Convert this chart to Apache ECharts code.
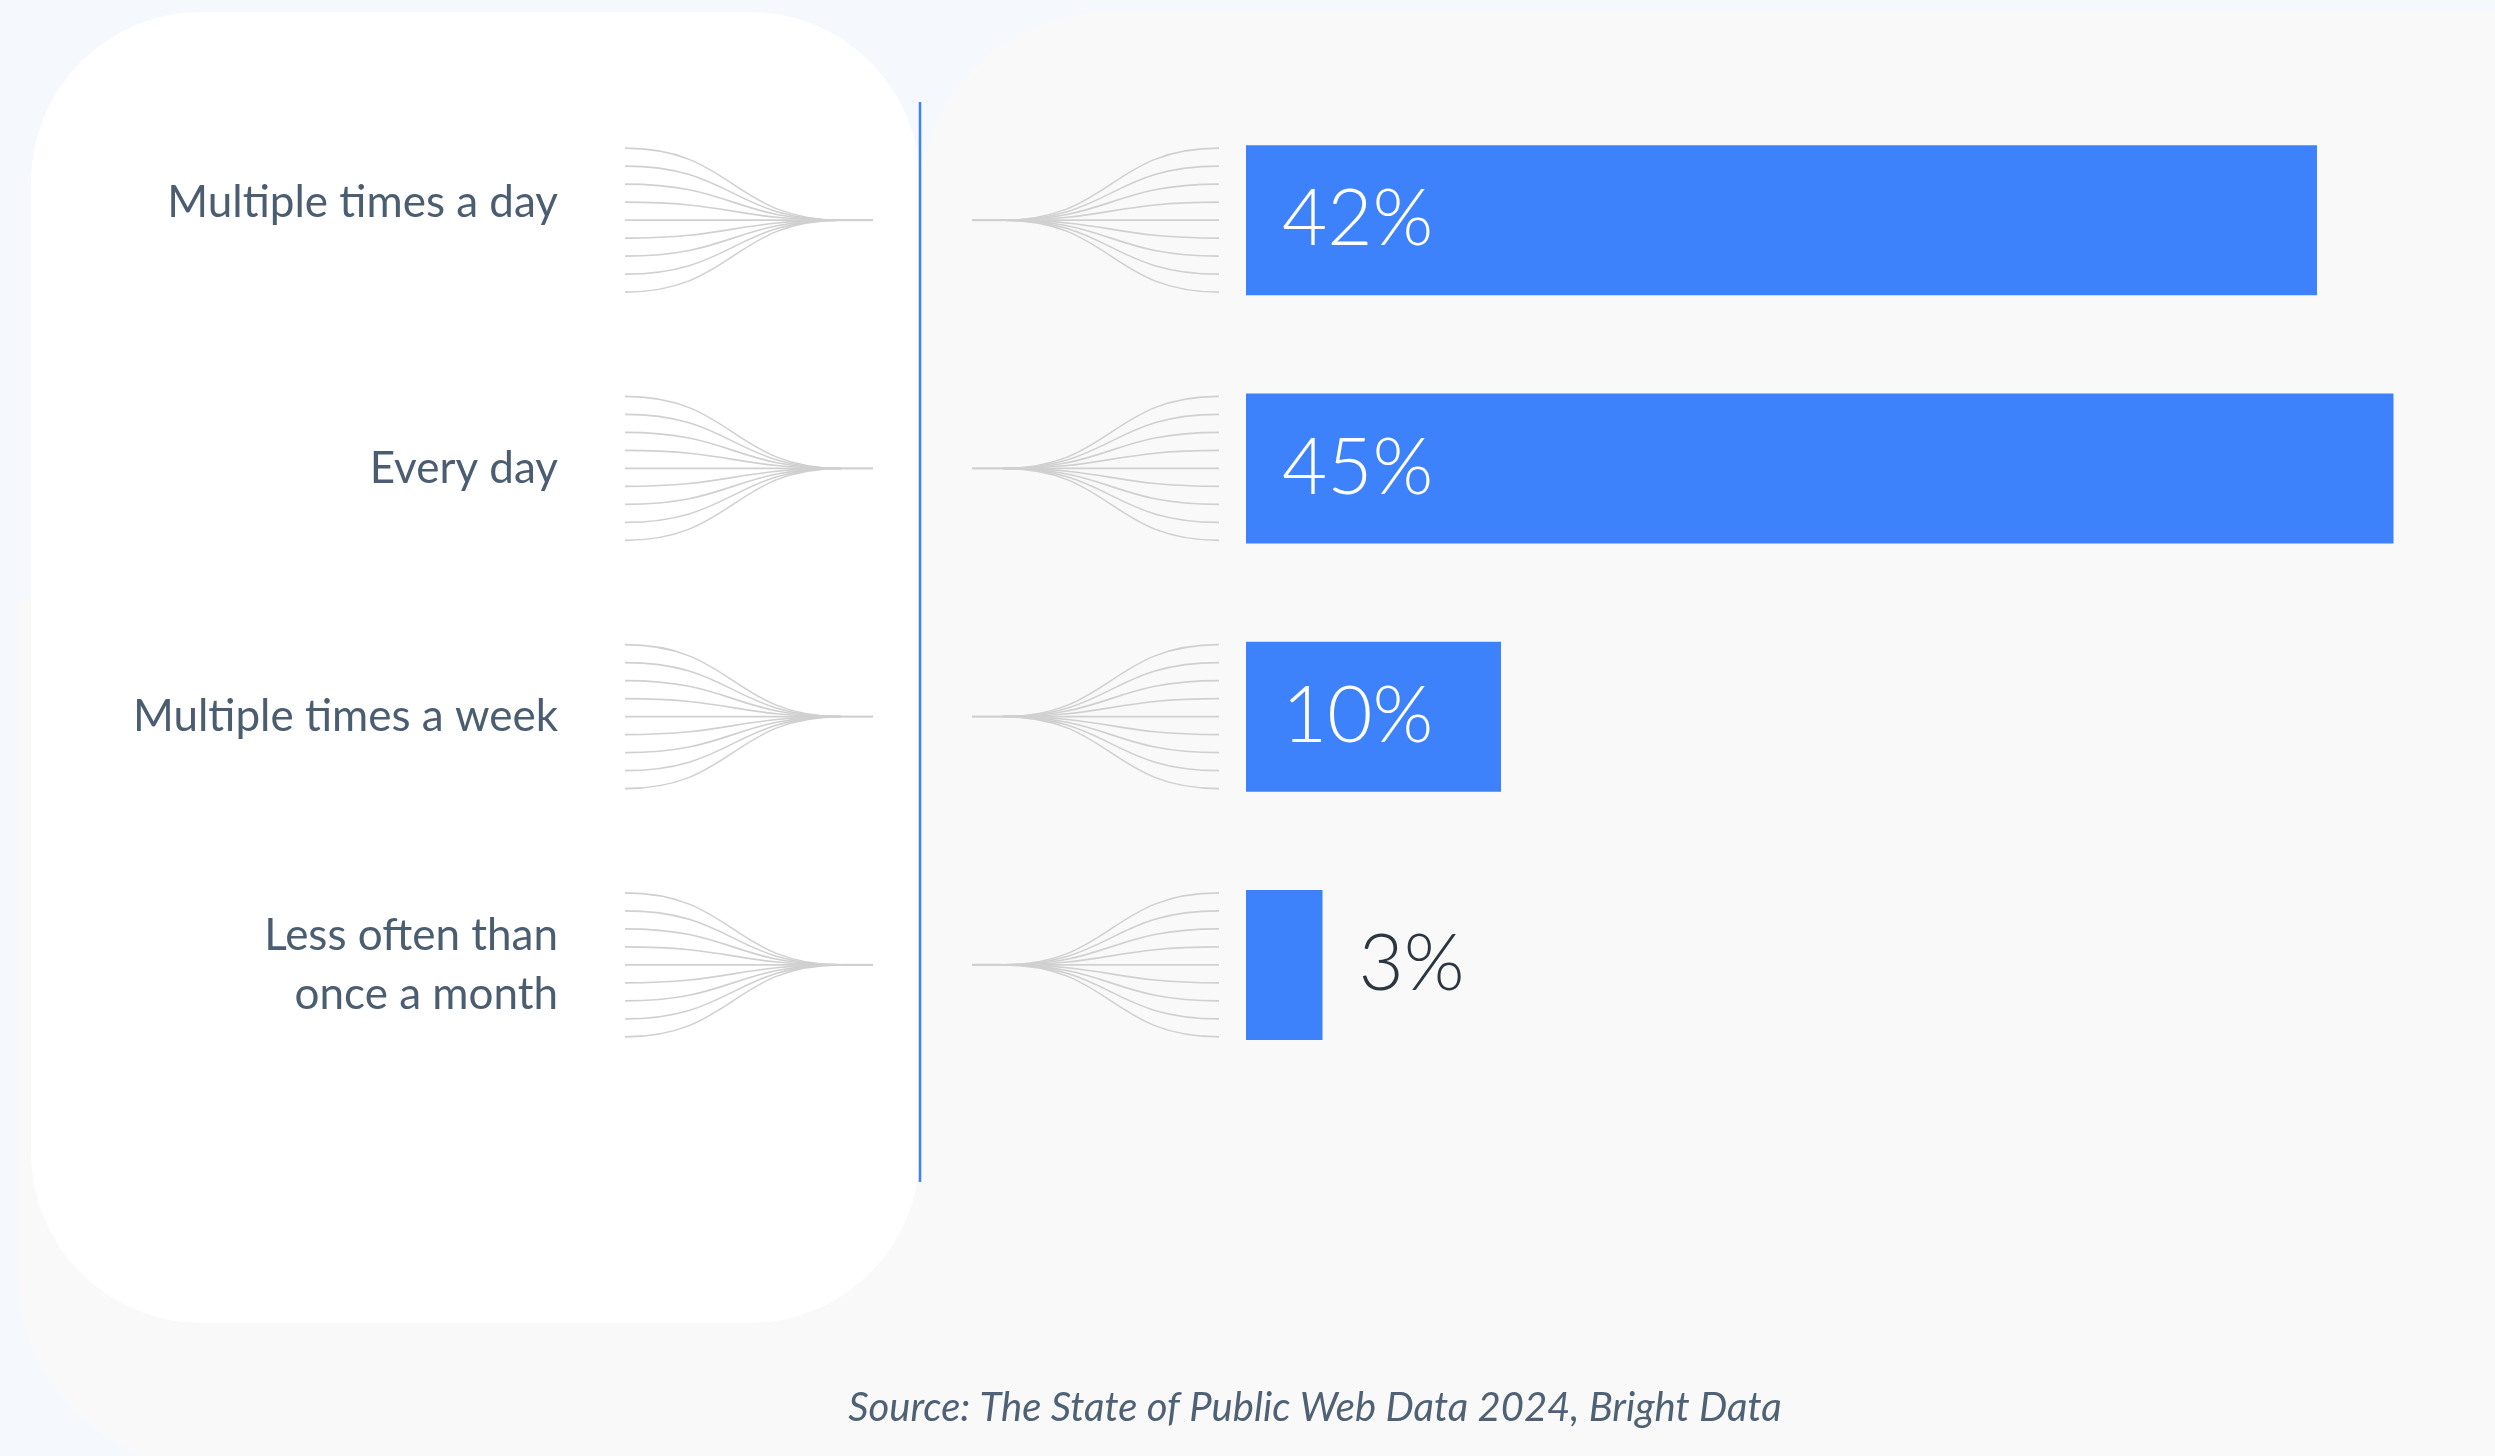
<!DOCTYPE html>
<html>
<head>
<meta charset="utf-8">
<script src="https://cdn.jsdelivr.net/npm/echarts@6/dist/echarts.min.js"></script>
<style>
  html, body { margin: 0; padding: 0; background: #f5f9fe; }
  #chart { width: 2495px; height: 1456px; }
</style>
</head>
<body>
<div id="chart"></div>
<script>
// Survey answers: how often public web data is used
const categories = [
  'Multiple times a day',
  'Every day',
  'Multiple times a week',
  'Less often than\nonce a month'
];
const shares = [42, 45, 10, 3];
const sourceNote = 'Source: The State of Public Web Data 2024, Bright Data';

const BLUE = '#3d81fb';
const LABEL_COLOR = '#4b5d71';
const FAN_COLOR = '#d0d0d0';
const FONT = 'Lato, "Open Sans", "Noto Sans", sans-serif';

const chart = echarts.init(document.getElementById('chart'), null, { renderer: 'canvas' });

// Decorative "fan" of converging curves drawn on both sides of the divider,
// anchored to each category's band centre.
function renderFans(params, api) {
  const idx = api.value(1);
  const p = api.coord([0, idx]);
  const band = api.size([0, 1])[1];
  const cx = p[0], cy = p[1];
  const step = band * 0.0725;
  const style = { stroke: FAN_COLOR, lineWidth: 1.6, fill: null };
  const children = [];

  const lx0 = cx - 621, lxm = cx - 405, lxe = cx - 373;
  const rxs = cx - 274, rxm = cx - 243, rxe = cx - 27;
  const lh = (lxm - lx0) / 2, rh = (rxe - rxm) / 2;

  for (let k = -4; k <= 4; k++) {
    const yk = cy + k * step;
    children.push({
      type: 'bezierCurve',
      shape: { x1: lx0, y1: yk, cpx1: lx0 + lh, cpy1: yk, cpx2: lx0 + lh, cpy2: cy, x2: lxm, y2: cy },
      style: style, silent: true
    });
    children.push({
      type: 'bezierCurve',
      shape: { x1: rxm, y1: cy, cpx1: rxm + rh, cpy1: cy, cpx2: rxm + rh, cpy2: yk, x2: rxe, y2: yk },
      style: style, silent: true
    });
  }
  children.push({ type: 'line', shape: { x1: lxm, y1: cy, x2: lxe, y2: cy }, style: { stroke: FAN_COLOR, lineWidth: 2.2 }, silent: true });
  children.push({ type: 'line', shape: { x1: rxs, y1: cy, x2: rxm, y2: cy }, style: { stroke: FAN_COLOR, lineWidth: 2.2 }, silent: true });
  return { type: 'group', children: children };
}

const option = {
  backgroundColor: '#f5f9fe',
  animation: false,
  graphic: [
    // light grey panel behind the bars
    { type: 'rect', z: -10, shape: { x: 920, y: 12, width: 1700, height: 1600, r: [190, 0, 0, 0] }, style: { fill: '#f9f9f9' }, silent: true },
    { type: 'rect', z: -10, shape: { x: 17, y: 600, width: 1300, height: 870, r: [0, 0, 0, 200] }, style: { fill: '#f9f9f9' }, silent: true },
    // white card holding the category names
    { type: 'rect', z: -9, shape: { x: 31, y: 12, width: 889, height: 1311, r: 170 }, style: { fill: '#ffffff' }, silent: true },
    // vertical divider
    { type: 'line', z: 5, shape: { x1: 920, y1: 102, x2: 920, y2: 1182 }, style: { stroke: BLUE, lineWidth: 2.5 }, silent: true }
  ],
  title: {
    text: sourceNote,
    left: 1310,
    top: 1383,
    textAlign: 'center',
    textStyle: {
      fontFamily: FONT,
      fontStyle: 'italic',
      fontWeight: 'normal',
      fontSize: 40,
      color: '#4f6175'
    }
  },
  grid: { left: 1246, top: 96, width: 1173, height: 993, containLabel: false },
  xAxis: {
    type: 'value',
    min: 0,
    max: 46,
    show: false
  },
  yAxis: {
    type: 'category',
    inverse: true,
    data: categories.map((c, i) => i === 0
      ? { value: c, textStyle: { verticalAlign: 'bottom', lineHeight: 34 } }
      : c),
    axisLine: { show: false },
    axisTick: { show: false },
    splitLine: { show: false },
    axisLabel: {
      margin: 688,
      fontFamily: FONT,
      fontSize: 44,
      lineHeight: 59,
      color: LABEL_COLOR,
      align: 'right'
    }
  },
  series: [
    {
      type: 'custom',
      renderItem: renderFans,
      clip: false,
      silent: true,
      encode: { x: 0, y: 1 },
      data: categories.map((c, i) => [0, i]),
      z: 1
    },
    {
      type: 'bar',
      barWidth: 150,
      z: 3,
      itemStyle: { color: BLUE },
      data: shares.map(v => v < 5
        ? { value: v, label: { position: 'right', color: '#2c3640' } }
        : v),
      label: {
        show: true,
        position: 'insideLeft',
        distance: 36,
        offset: [0, 0],
        formatter: '{c}%',
        fontFamily: FONT,
        fontWeight: 300,
        fontSize: 78,
        color: '#ffffff'
      }
    }
  ]
};

chart.setOption(option);
</script>
</body>
</html>
